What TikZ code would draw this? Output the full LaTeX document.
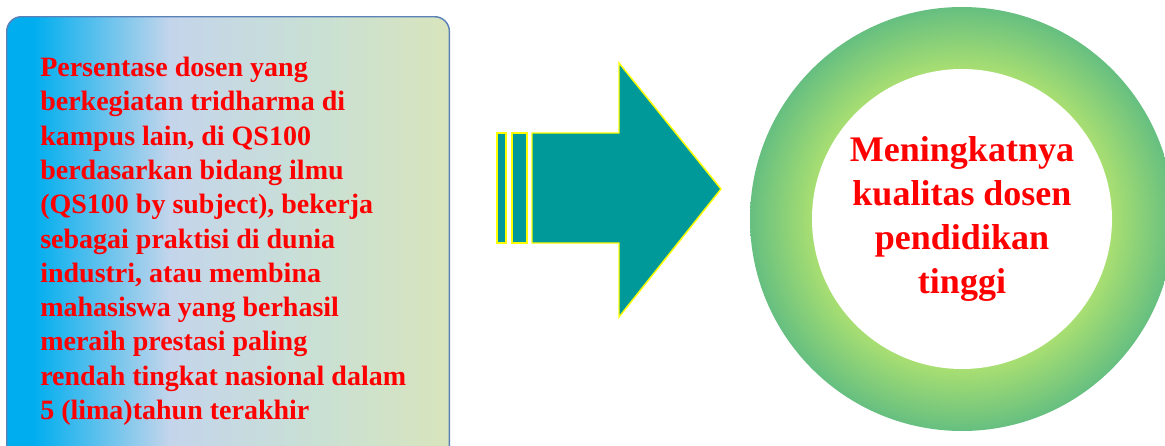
\documentclass[tikz,border=0pt]{standalone}
\usepackage{fontspec}
\setmainfont{Liberation Serif}
\usetikzlibrary{positioning,calc}
\definecolor{txtred}{HTML}{FF0000}
\definecolor{skyA}{HTML}{00AEEF}
\definecolor{skyB}{HTML}{C4D5EB}
\definecolor{sageA}{HTML}{C9E0D4}
\definecolor{sageB}{HTML}{D8E4BC}
\definecolor{boxline}{HTML}{5A82B8}
\definecolor{arrfill}{HTML}{009999}
\definecolor{arrline}{HTML}{FFFF00}
\definecolor{ringin}{HTML}{A9DF72}
\definecolor{ringout}{HTML}{66BF80}
\pgfdeclarehorizontalshading{boxshade}{100bp}{color(0bp)=(skyA); color(28bp)=(skyA); color(43.5bp)=(skyB); color(60bp)=(sageA); color(75bp)=(sageB); color(100bp)=(sageB)}
\pgfdeclareradialshading{ringshade}{\pgfpoint{0bp}{0bp}}{color(0bp)=(white); color(17.6bp)=(ringin); color(25bp)=(ringout); color(50bp)=(ringout)}

\begin{document}
\begin{tikzpicture}[x=0.75pt,y=-0.75pt,
  panel/.style={draw=boxline,line width=1.1pt,rounded corners=11pt,shading=boxshade,minimum width=332pt,minimum height=337pt,anchor=north west,inner sep=0pt},
  ptext/.style={anchor=north west,inner sep=0pt,align=left,text=txtred,font=\bfseries\fontsize{21}{25.7}\selectfont},
  blockarr/.style={draw=arrline,fill=arrfill,line width=1.1pt,line join=miter},
  ring/.style={circle,shading=ringshade,minimum size=318pt,inner sep=0pt},
  hole/.style={circle,fill=white,minimum size=225pt,inner sep=0pt,align=center,text=txtred,font=\bfseries\fontsize{27}{32.8}\selectfont}]
\useasboundingbox (0,0) rectangle (1165,446);
\clip (0,0) rectangle (1165,446);
% source box
\node[panel] (src) at (6,16) {};
\node[ptext] (srctext) at ($(src.north west)+(34,41)$) {Persentase dosen  yang\\berkegiatan tridharma di\\kampus lain,  di  QS100\\berdasarkan bidang ilmu\\(QS100  by subject), bekerja\\sebagai praktisi di dunia\\industri,  atau membina\\mahasiswa  yang berhasil\\meraih prestasi paling\\rendah tingkat nasional dalam\\5 (lima)tahun terakhir};
% arrow
\draw[blockarr] (497,133) rectangle (506,243);
\draw[blockarr] (512,133) rectangle (527,243);
\draw[blockarr] (532,133) -- (619,133) -- (619,63) -- (721,189) -- (619,317) -- (619,243) -- (532,243) -- cycle;
% goal circle
\node[ring] (goalring) at (962,219) {};
\node[hole] (goal) at (goalring.center) {Meningkatnya\\kualitas dosen\\pendidikan\\tinggi};
\end{tikzpicture}
\end{document}
